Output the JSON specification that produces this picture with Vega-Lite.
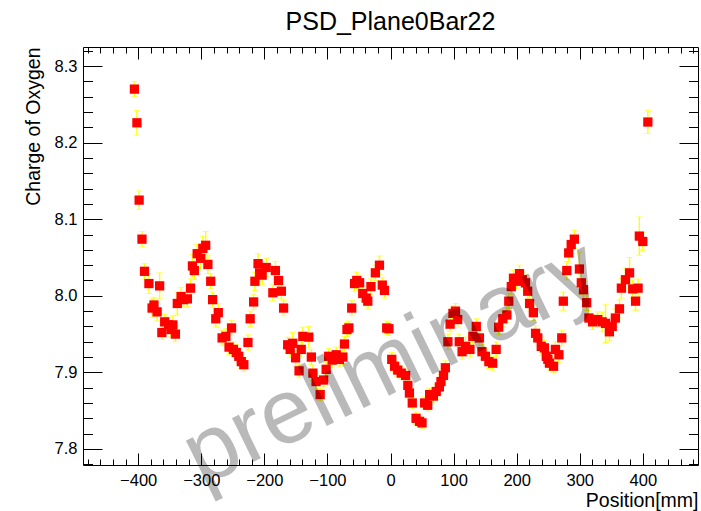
{
  "$schema": "https://vega.github.io/schema/vega-lite/v6.json",
  "width": 615,
  "height": 418,
  "autosize": {"type": "none"},
  "padding": {"left": 83, "top": 47, "right": 3, "bottom": 46},
  "background": "#ffffff",
  "title": {"text": "PSD_Plane0Bar22", "fontSize": 25, "font": "Liberation Sans", "fontWeight": "normal", "color": "#000000", "anchor": "middle", "offset": 12},
  "config": {
    "view": {"stroke": "#000000", "strokeWidth": 1},
    "axis": {"domain": false, "grid": false, "labelFont": "Liberation Sans", "titleFont": "Liberation Sans", "labelColor": "#000000", "titleColor": "#000000", "tickColor": "#000000", "labelFontSize": 16.5, "titleFontSize": 19.5, "titleFontWeight": "normal", "labelOverlap": false, "labelFlush": false, "tickWidth": 1}
  },
  "data": {"values": [
    {"x": -406, "y": 8.270, "lo": 8.260, "hi": 8.280},
    {"x": -402, "y": 8.226, "lo": 8.210, "hi": 8.242},
    {"x": -398.5, "y": 8.125, "lo": 8.113, "hi": 8.137},
    {"x": -394, "y": 8.074, "lo": 8.064, "hi": 8.084},
    {"x": -390, "y": 8.032, "lo": 8.022, "hi": 8.042},
    {"x": -383, "y": 8.016, "lo": 8.003, "hi": 8.029},
    {"x": -378, "y": 7.984, "lo": 7.972, "hi": 7.996},
    {"x": -375, "y": 7.988, "lo": 7.978, "hi": 7.998},
    {"x": -370, "y": 7.979, "lo": 7.967, "hi": 7.991},
    {"x": -366, "y": 8.013, "lo": 7.996, "hi": 8.030},
    {"x": -362.5, "y": 7.952, "lo": 7.943, "hi": 7.961},
    {"x": -358, "y": 7.966, "lo": 7.956, "hi": 7.976},
    {"x": -352, "y": 7.962, "lo": 7.952, "hi": 7.972},
    {"x": -348, "y": 7.956, "lo": 7.946, "hi": 7.966},
    {"x": -345, "y": 7.962, "lo": 7.950, "hi": 7.974},
    {"x": -341, "y": 7.950, "lo": 7.940, "hi": 7.960},
    {"x": -338, "y": 7.990, "lo": 7.975, "hi": 8.005},
    {"x": -332, "y": 7.999, "lo": 7.987, "hi": 8.011},
    {"x": -328, "y": 7.995, "lo": 7.985, "hi": 8.005},
    {"x": -322, "y": 7.996, "lo": 7.986, "hi": 8.006},
    {"x": -317, "y": 8.010, "lo": 7.998, "hi": 8.022},
    {"x": -314, "y": 8.039, "lo": 8.024, "hi": 8.054},
    {"x": -311, "y": 8.033, "lo": 8.021, "hi": 8.045},
    {"x": -306.5, "y": 8.055, "lo": 8.043, "hi": 8.067},
    {"x": -301, "y": 8.049, "lo": 8.034, "hi": 8.064},
    {"x": -297.5, "y": 8.062, "lo": 8.046, "hi": 8.078},
    {"x": -293, "y": 8.066, "lo": 8.048, "hi": 8.084},
    {"x": -289.5, "y": 8.041, "lo": 8.029, "hi": 8.053},
    {"x": -285, "y": 8.019, "lo": 8.009, "hi": 8.029},
    {"x": -282, "y": 7.995, "lo": 7.985, "hi": 8.005},
    {"x": -277, "y": 7.970, "lo": 7.960, "hi": 7.980},
    {"x": -273, "y": 7.978, "lo": 7.966, "hi": 7.990},
    {"x": -267, "y": 7.945, "lo": 7.935, "hi": 7.955},
    {"x": -261, "y": 7.947, "lo": 7.937, "hi": 7.957},
    {"x": -256, "y": 7.933, "lo": 7.923, "hi": 7.943},
    {"x": -252, "y": 7.958, "lo": 7.948, "hi": 7.968},
    {"x": -249, "y": 7.930, "lo": 7.920, "hi": 7.940},
    {"x": -244.5, "y": 7.926, "lo": 7.916, "hi": 7.936},
    {"x": -240.5, "y": 7.921, "lo": 7.911, "hi": 7.931},
    {"x": -236.5, "y": 7.914, "lo": 7.905, "hi": 7.923},
    {"x": -232.5, "y": 7.910, "lo": 7.901, "hi": 7.919},
    {"x": -226, "y": 7.939, "lo": 7.929, "hi": 7.949},
    {"x": -222.5, "y": 7.970, "lo": 7.960, "hi": 7.980},
    {"x": -217, "y": 7.992, "lo": 7.982, "hi": 8.002},
    {"x": -215, "y": 8.019, "lo": 8.007, "hi": 8.031},
    {"x": -210, "y": 8.042, "lo": 8.029, "hi": 8.055},
    {"x": -207.5, "y": 8.030, "lo": 8.018, "hi": 8.042},
    {"x": -203.5, "y": 8.027, "lo": 8.015, "hi": 8.039},
    {"x": -197, "y": 8.037, "lo": 8.025, "hi": 8.049},
    {"x": -186.5, "y": 8.004, "lo": 7.994, "hi": 8.014},
    {"x": -182.5, "y": 8.033, "lo": 8.021, "hi": 8.045},
    {"x": -177.5, "y": 8.020, "lo": 8.008, "hi": 8.032},
    {"x": -173, "y": 8.006, "lo": 7.996, "hi": 8.016},
    {"x": -169.5, "y": 7.984, "lo": 7.974, "hi": 7.994},
    {"x": -163, "y": 7.936, "lo": 7.926, "hi": 7.946},
    {"x": -159, "y": 7.930, "lo": 7.920, "hi": 7.940},
    {"x": -155, "y": 7.938, "lo": 7.924, "hi": 7.952},
    {"x": -150.5, "y": 7.919, "lo": 7.909, "hi": 7.929},
    {"x": -145, "y": 7.902, "lo": 7.893, "hi": 7.911},
    {"x": -141.5, "y": 7.930, "lo": 7.920, "hi": 7.940},
    {"x": -139, "y": 7.947, "lo": 7.935, "hi": 7.959},
    {"x": -129.5, "y": 7.946, "lo": 7.932, "hi": 7.960},
    {"x": -125.5, "y": 7.920, "lo": 7.910, "hi": 7.930},
    {"x": -123, "y": 7.899, "lo": 7.889, "hi": 7.909},
    {"x": -118, "y": 7.888, "lo": 7.878, "hi": 7.898},
    {"x": -111.5, "y": 7.871, "lo": 7.863, "hi": 7.879},
    {"x": -106, "y": 7.890, "lo": 7.881, "hi": 7.899},
    {"x": -102, "y": 7.904, "lo": 7.895, "hi": 7.913},
    {"x": -98, "y": 7.921, "lo": 7.911, "hi": 7.931},
    {"x": -92.5, "y": 7.916, "lo": 7.906, "hi": 7.926},
    {"x": -86, "y": 7.923, "lo": 7.913, "hi": 7.933},
    {"x": -81, "y": 7.917, "lo": 7.907, "hi": 7.927},
    {"x": -75.5, "y": 7.920, "lo": 7.910, "hi": 7.930},
    {"x": -73, "y": 7.937, "lo": 7.927, "hi": 7.947},
    {"x": -69, "y": 7.956, "lo": 7.947, "hi": 7.965},
    {"x": -66, "y": 7.958, "lo": 7.949, "hi": 7.967},
    {"x": -61.5, "y": 7.984, "lo": 7.974, "hi": 7.994},
    {"x": -57, "y": 8.016, "lo": 8.006, "hi": 8.026},
    {"x": -53.5, "y": 8.020, "lo": 8.009, "hi": 8.031},
    {"x": -49, "y": 8.017, "lo": 8.007, "hi": 8.027},
    {"x": -44, "y": 8.003, "lo": 7.993, "hi": 8.013},
    {"x": -38.5, "y": 7.997, "lo": 7.987, "hi": 8.007},
    {"x": -36, "y": 7.993, "lo": 7.983, "hi": 8.003},
    {"x": -31, "y": 8.012, "lo": 8.002, "hi": 8.022},
    {"x": -24, "y": 8.030, "lo": 8.020, "hi": 8.040},
    {"x": -17.5, "y": 8.040, "lo": 8.028, "hi": 8.052},
    {"x": -13, "y": 8.014, "lo": 8.004, "hi": 8.024},
    {"x": -9.5, "y": 8.007, "lo": 7.997, "hi": 8.017},
    {"x": -6, "y": 7.958, "lo": 7.949, "hi": 7.967},
    {"x": -2.5, "y": 7.957, "lo": 7.948, "hi": 7.966},
    {"x": 2, "y": 7.917, "lo": 7.908, "hi": 7.926},
    {"x": 6.5, "y": 7.908, "lo": 7.900, "hi": 7.916},
    {"x": 11.5, "y": 7.903, "lo": 7.895, "hi": 7.911},
    {"x": 17, "y": 7.899, "lo": 7.891, "hi": 7.907},
    {"x": 24, "y": 7.896, "lo": 7.888, "hi": 7.904},
    {"x": 27.5, "y": 7.883, "lo": 7.875, "hi": 7.891},
    {"x": 30, "y": 7.873, "lo": 7.865, "hi": 7.881},
    {"x": 34.5, "y": 7.860, "lo": 7.852, "hi": 7.868},
    {"x": 40.5, "y": 7.840, "lo": 7.832, "hi": 7.848},
    {"x": 46, "y": 7.836, "lo": 7.829, "hi": 7.843},
    {"x": 50, "y": 7.834, "lo": 7.827, "hi": 7.841},
    {"x": 54, "y": 7.860, "lo": 7.852, "hi": 7.868},
    {"x": 59, "y": 7.857, "lo": 7.849, "hi": 7.865},
    {"x": 62, "y": 7.871, "lo": 7.863, "hi": 7.879},
    {"x": 68, "y": 7.869, "lo": 7.860, "hi": 7.878},
    {"x": 72.5, "y": 7.875, "lo": 7.866, "hi": 7.884},
    {"x": 77.5, "y": 7.881, "lo": 7.872, "hi": 7.890},
    {"x": 80, "y": 7.888, "lo": 7.879, "hi": 7.897},
    {"x": 84, "y": 7.896, "lo": 7.887, "hi": 7.905},
    {"x": 87, "y": 7.906, "lo": 7.897, "hi": 7.915},
    {"x": 91, "y": 7.940, "lo": 7.930, "hi": 7.950},
    {"x": 94.5, "y": 7.963, "lo": 7.953, "hi": 7.973},
    {"x": 99, "y": 7.977, "lo": 7.967, "hi": 7.987},
    {"x": 103, "y": 7.980, "lo": 7.970, "hi": 7.990},
    {"x": 106.5, "y": 7.969, "lo": 7.959, "hi": 7.979},
    {"x": 109, "y": 7.940, "lo": 7.930, "hi": 7.950},
    {"x": 113.5, "y": 7.927, "lo": 7.917, "hi": 7.937},
    {"x": 119, "y": 7.934, "lo": 7.922, "hi": 7.946},
    {"x": 126, "y": 7.930, "lo": 7.920, "hi": 7.940},
    {"x": 130.5, "y": 7.947, "lo": 7.937, "hi": 7.957},
    {"x": 136, "y": 7.960, "lo": 7.950, "hi": 7.970},
    {"x": 141, "y": 7.945, "lo": 7.935, "hi": 7.955},
    {"x": 145, "y": 7.927, "lo": 7.917, "hi": 7.937},
    {"x": 150.5, "y": 7.921, "lo": 7.911, "hi": 7.931},
    {"x": 156, "y": 7.914, "lo": 7.905, "hi": 7.923},
    {"x": 162, "y": 7.912, "lo": 7.903, "hi": 7.921},
    {"x": 167.5, "y": 7.930, "lo": 7.920, "hi": 7.940},
    {"x": 171.5, "y": 7.959, "lo": 7.949, "hi": 7.969},
    {"x": 178, "y": 7.970, "lo": 7.960, "hi": 7.980},
    {"x": 184.5, "y": 7.975, "lo": 7.965, "hi": 7.985},
    {"x": 187.5, "y": 7.993, "lo": 7.983, "hi": 8.003},
    {"x": 191.5, "y": 8.012, "lo": 8.002, "hi": 8.022},
    {"x": 195, "y": 8.023, "lo": 8.013, "hi": 8.033},
    {"x": 199.5, "y": 8.019, "lo": 8.009, "hi": 8.029},
    {"x": 204.5, "y": 8.029, "lo": 8.018, "hi": 8.040},
    {"x": 209, "y": 8.021, "lo": 8.011, "hi": 8.031},
    {"x": 214, "y": 8.017, "lo": 8.007, "hi": 8.027},
    {"x": 217.5, "y": 8.006, "lo": 7.996, "hi": 8.016},
    {"x": 220.5, "y": 7.990, "lo": 7.980, "hi": 8.000},
    {"x": 226.5, "y": 7.978, "lo": 7.968, "hi": 7.988},
    {"x": 230, "y": 7.951, "lo": 7.941, "hi": 7.961},
    {"x": 233.5, "y": 7.945, "lo": 7.935, "hi": 7.955},
    {"x": 239, "y": 7.934, "lo": 7.922, "hi": 7.946},
    {"x": 244, "y": 7.932, "lo": 7.922, "hi": 7.942},
    {"x": 247, "y": 7.921, "lo": 7.909, "hi": 7.933},
    {"x": 249.5, "y": 7.917, "lo": 7.907, "hi": 7.927},
    {"x": 252, "y": 7.912, "lo": 7.903, "hi": 7.921},
    {"x": 258.5, "y": 7.908, "lo": 7.900, "hi": 7.916},
    {"x": 261.5, "y": 7.930, "lo": 7.920, "hi": 7.940},
    {"x": 267, "y": 7.923, "lo": 7.913, "hi": 7.933},
    {"x": 271.5, "y": 7.945, "lo": 7.935, "hi": 7.955},
    {"x": 274, "y": 7.993, "lo": 7.981, "hi": 8.005},
    {"x": 279.5, "y": 8.033, "lo": 8.021, "hi": 8.045},
    {"x": 282.5, "y": 8.056, "lo": 8.044, "hi": 8.068},
    {"x": 286.5, "y": 8.067, "lo": 8.055, "hi": 8.079},
    {"x": 291.5, "y": 8.074, "lo": 8.062, "hi": 8.086},
    {"x": 299.5, "y": 8.035, "lo": 8.013, "hi": 8.057},
    {"x": 302.5, "y": 8.017, "lo": 8.002, "hi": 8.032},
    {"x": 306, "y": 8.008, "lo": 7.996, "hi": 8.020},
    {"x": 311, "y": 7.991, "lo": 7.981, "hi": 8.001},
    {"x": 314.5, "y": 7.971, "lo": 7.961, "hi": 7.981},
    {"x": 320.5, "y": 7.966, "lo": 7.956, "hi": 7.976},
    {"x": 328.5, "y": 7.969, "lo": 7.959, "hi": 7.979},
    {"x": 335.5, "y": 7.966, "lo": 7.953, "hi": 7.979},
    {"x": 341, "y": 7.964, "lo": 7.939, "hi": 7.989},
    {"x": 347, "y": 7.953, "lo": 7.941, "hi": 7.965},
    {"x": 351.5, "y": 7.960, "lo": 7.948, "hi": 7.972},
    {"x": 356.5, "y": 7.971, "lo": 7.959, "hi": 7.983},
    {"x": 363, "y": 7.983, "lo": 7.971, "hi": 7.995},
    {"x": 366, "y": 8.010, "lo": 7.997, "hi": 8.023},
    {"x": 372.5, "y": 8.021, "lo": 8.006, "hi": 8.036},
    {"x": 379, "y": 8.030, "lo": 8.010, "hi": 8.050},
    {"x": 384, "y": 8.009, "lo": 7.997, "hi": 8.021},
    {"x": 388.5, "y": 7.993, "lo": 7.981, "hi": 8.005},
    {"x": 392.5, "y": 8.010, "lo": 7.998, "hi": 8.022},
    {"x": 394.5, "y": 8.078, "lo": 8.053, "hi": 8.103},
    {"x": 400, "y": 8.071, "lo": 8.059, "hi": 8.083},
    {"x": 408, "y": 8.227, "lo": 8.212, "hi": 8.242}
  ]},
  "resolve": {"axis": {"x": "independent", "y": "independent"}},
  "layer": [
    {
      "mark": {"type": "errorbar", "rule": {"color": "#ffff00", "strokeWidth": 1.4}, "ticks": {"color": "#ffff00", "strokeWidth": 1.4}, "size": 6},
      "encoding": {
        "x": {"field": "x", "type": "quantitative", "scale": {"domain": [-487.5, 487.5], "nice": false, "zero": false},
              "axis": {"orient": "bottom", "ticks": false, "values": [-400, -300, -200, -100, 0, 100, 200, 300, 400], "labelPadding": 7, "title": "Position[mm]", "titleAnchor": "end", "titlePadding": 3}},
        "y": {"field": "lo", "type": "quantitative", "scale": {"domain": [7.779, 8.325], "nice": false, "zero": false},
              "axis": {"orient": "left", "ticks": false, "values": [7.8, 7.9, 8.0, 8.1, 8.2, 8.3], "format": ".1f", "labelPadding": 6, "title": "Charge of Oxygen", "titleAnchor": "end", "titlePadding": 11}},
        "y2": {"field": "hi"}
      }
    },
    {
      "mark": {"type": "point", "shape": "square", "filled": true, "color": "#ff0000", "opacity": 1, "size": 86, "strokeWidth": 0},
      "encoding": {
        "x": {"field": "x", "type": "quantitative", "scale": {"domain": [-487.5, 487.5], "nice": false, "zero": false},
              "axis": {"orient": "bottom", "labels": false, "title": null, "values": [-400, -300, -200, -100, 0, 100, 200, 300, 400], "tickSize": -12}},
        "y": {"field": "y", "type": "quantitative", "scale": {"domain": [7.779, 8.325], "nice": false, "zero": false},
              "axis": {"orient": "left", "labels": false, "title": null, "values": [7.8, 7.9, 8.0, 8.1, 8.2, 8.3], "tickSize": -19}}
      }
    },
    {
      "mark": {"type": "point", "opacity": 0},
      "encoding": {
        "x": {"field": "x", "type": "quantitative", "scale": {"domain": [-487.5, 487.5], "nice": false, "zero": false},
              "axis": {"orient": "bottom", "labels": false, "title": null, "values": [-480, -460, -440, -420, -380, -360, -340, -320, -280, -260, -240, -220, -180, -160, -140, -120, -80, -60, -40, -20, 20, 40, 60, 80, 120, 140, 160, 180, 220, 240, 260, 280, 320, 340, 360, 380, 420, 440, 460, 480], "tickSize": -6}},
        "y": {"field": "y", "type": "quantitative", "scale": {"domain": [7.779, 8.325], "nice": false, "zero": false},
              "axis": {"orient": "left", "labels": false, "title": null, "values": [7.78, 7.82, 7.84, 7.86, 7.88, 7.92, 7.94, 7.96, 7.98, 8.02, 8.04, 8.06, 8.08, 8.12, 8.14, 8.16, 8.18, 8.22, 8.24, 8.26, 8.28, 8.32], "tickSize": -9.5}}
      }
    },
    {
      "mark": {"type": "point", "opacity": 0},
      "encoding": {
        "x": {"field": "x", "type": "quantitative", "scale": {"domain": [-487.5, 487.5], "nice": false, "zero": false},
              "axis": {"orient": "top", "labels": false, "title": null, "values": [-400, -300, -200, -100, 0, 100, 200, 300, 400], "tickSize": -12}},
        "y": {"field": "y", "type": "quantitative", "scale": {"domain": [7.779, 8.325], "nice": false, "zero": false},
              "axis": {"orient": "right", "labels": false, "title": null, "values": [7.8, 7.9, 8.0, 8.1, 8.2, 8.3], "tickSize": -19}}
      }
    },
    {
      "mark": {"type": "point", "opacity": 0},
      "encoding": {
        "x": {"field": "x", "type": "quantitative", "scale": {"domain": [-487.5, 487.5], "nice": false, "zero": false},
              "axis": {"orient": "top", "labels": false, "title": null, "values": [-480, -460, -440, -420, -380, -360, -340, -320, -280, -260, -240, -220, -180, -160, -140, -120, -80, -60, -40, -20, 20, 40, 60, 80, 120, 140, 160, 180, 220, 240, 260, 280, 320, 340, 360, 380, 420, 440, 460, 480], "tickSize": -6}},
        "y": {"field": "y", "type": "quantitative", "scale": {"domain": [7.779, 8.325], "nice": false, "zero": false},
              "axis": {"orient": "right", "labels": false, "title": null, "values": [7.78, 7.82, 7.84, 7.86, 7.88, 7.92, 7.94, 7.96, 7.98, 8.02, 8.04, 8.06, 8.08, 8.12, 8.14, 8.16, 8.18, 8.22, 8.24, 8.26, 8.28, 8.32], "tickSize": -9.5}}
      }
    },
    {
      "data": {"values": [{"x": 2, "y": 7.912, "t": "preliminary"}]},
      "mark": {"type": "text", "font": "Liberation Sans", "fontSize": 92, "angle": -26, "align": "center", "baseline": "middle", "color": "#000000", "opacity": 0.27},
      "encoding": {
        "x": {"field": "x", "type": "quantitative", "scale": {"domain": [-487.5, 487.5], "nice": false, "zero": false}, "axis": null},
        "y": {"field": "y", "type": "quantitative", "scale": {"domain": [7.779, 8.325], "nice": false, "zero": false}, "axis": null},
        "text": {"field": "t"}
      }
    }
  ]
}
